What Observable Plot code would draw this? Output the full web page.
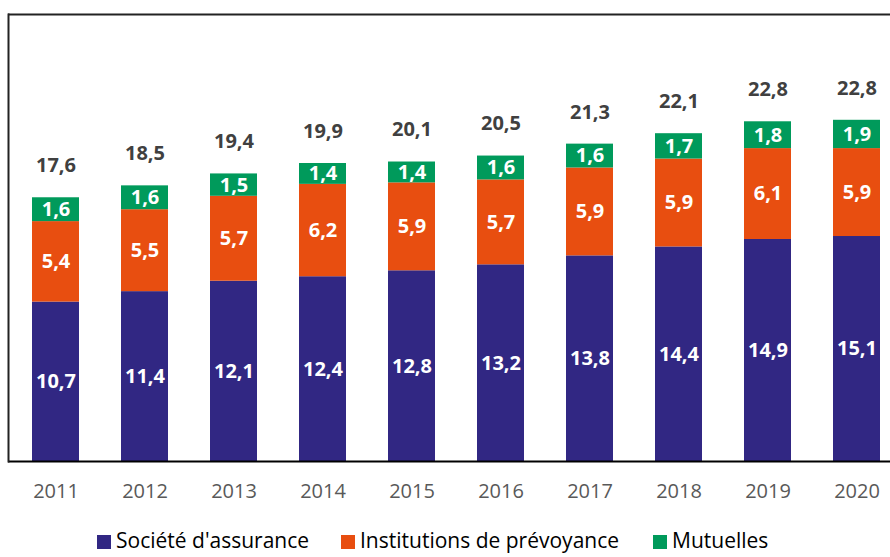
<!DOCTYPE html>
<html><head><meta charset="utf-8">
<script src="https://cdn.jsdelivr.net/npm/d3@7"></script>
<script src="https://cdn.jsdelivr.net/npm/@observablehq/plot@0.6"></script>
<style>
html,body{margin:0;padding:0;background:#fff;overflow:hidden;width:890px;height:557px;}
#legend{position:absolute;left:0;top:525px;width:890px;height:30px;font-family:"Open Sans",sans-serif;font-size:21px;color:#000;}
.item{position:absolute;top:0;line-height:30px;white-space:nowrap;}
.sw{display:inline-block;width:14px;height:14px;margin-right:5px;vertical-align:-1px;}
#chart{position:absolute;left:0;top:0;}
#chart svg{max-width:none !important;}
</style></head>
<body>
<div id="chart"></div>
<div id="legend"></div>
<script>
const years = ["2011","2012","2013","2014","2015","2016","2017","2018","2019","2020"];
const series = ["Société d'assurance","Institutions de prévoyance","Mutuelles"];
const colors = ["#312783","#E84E10","#009A5B"];
const societe = [10.7,11.4,12.1,12.4,12.8,13.2,13.8,14.4,14.9,15.1];
const institutions = [5.4,5.5,5.7,6.2,5.9,5.7,5.9,5.9,6.1,5.9];
const mutuelles = [1.6,1.6,1.5,1.4,1.4,1.6,1.6,1.7,1.8,1.9];
const totals = [17.6,18.5,19.4,19.9,20.1,20.5,21.3,22.1,22.8,22.8];

const fmt = v => v.toFixed(1).replace(".", ",");
const vals = [societe, institutions, mutuelles];
const data = [];
years.forEach((y, i) => series.forEach((s, k) => data.push({year: y, serie: s, value: vals[k][i]})));
const tops = years.map((y, i) => ({year: y, total: totals[i], top: societe[i] + institutions[i] + mutuelles[i]}));

const font = '"Open Sans", sans-serif';
const chart = Plot.plot({
  width: 903, height: 524,
  marginLeft: 8, marginRight: 0, marginTop: 14, marginBottom: 63,
  style: {fontFamily: font, background: "white", maxWidth: "none"},
  x: {domain: years, paddingInner: 0.474, paddingOuter: 0.247, label: null},
  y: {domain: [0, 30], axis: null},
  color: {domain: series, range: colors},
  marks: [
    Plot.barY(data, Plot.stackY({x: "year", y: "value", fill: "serie", order: series})),
    Plot.text(data, Plot.stackY({x: "year", y: "value", z: "serie", order: series, text: d => fmt(d.value), fill: "white", fontWeight: "bold", fontSize: 20})),
    Plot.text(tops, {x: "year", y: "top", text: d => fmt(d.total), dy: -32, fill: "#404040", fontWeight: "bold", fontSize: 20}),
    Plot.axisX({tickSize: 0, tickPadding: 22, fontSize: 20, color: "#595959", label: null}),
    Plot.ruleY([0], {stroke: "#000", strokeWidth: 2}),
    Plot.ruleY([30], {stroke: "#222", strokeWidth: 2}),
    Plot.frame({anchor: "left", stroke: "#222", strokeWidth: 2})
  ]
});
document.getElementById("chart").appendChild(chart);

const pos = [97, 341, 653];
const lg = document.getElementById("legend");
series.forEach((s, k) => {
  const it = document.createElement("div");
  it.className = "item";
  it.style.left = pos[k] + "px";
  it.innerHTML = `<span class="sw" style="background:${colors[k]}"></span>${s}`;
  lg.appendChild(it);
});
</script>
</body></html>
